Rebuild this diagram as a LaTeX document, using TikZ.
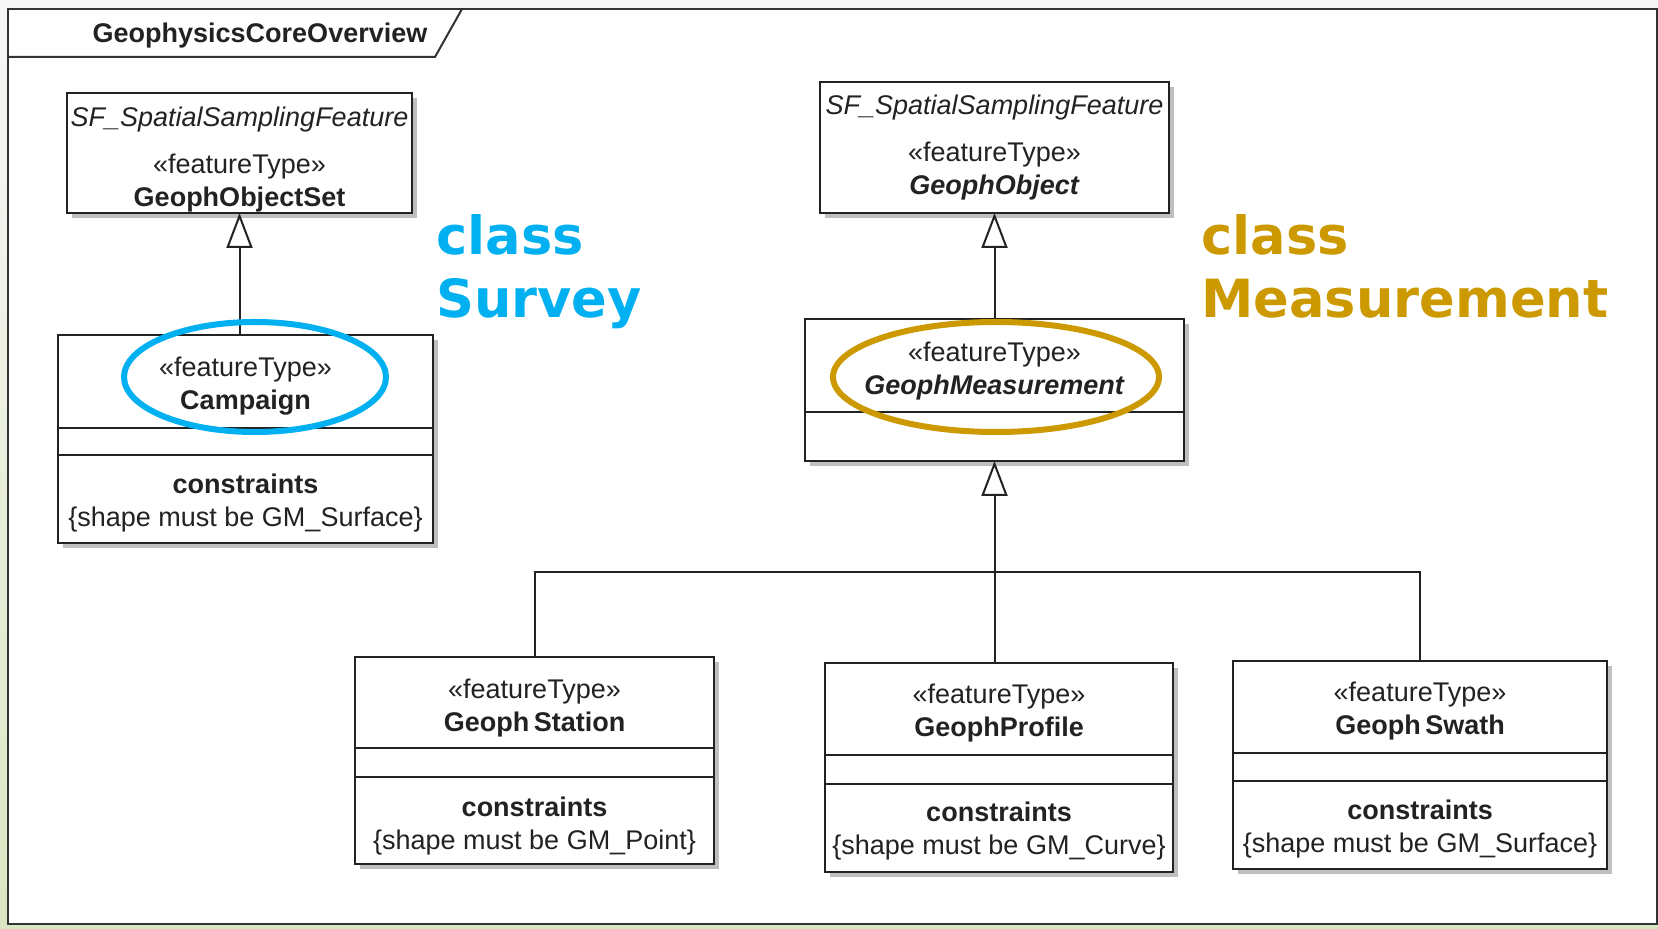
\documentclass[tikz,border=0pt]{standalone}
\usepackage{fontspec}
\setmainfont{Liberation Sans}
\newfontfamily\labelfont{DejaVu Sans}
\usetikzlibrary{positioning,arrows.meta,shadows}
\definecolor{surveyblue}{RGB}{0,176,240}
\definecolor{measgold}{RGB}{204,153,0}
\definecolor{umlink}{RGB}{34,34,34}
\newcommand{\ftype}{«featureType»}

\begin{document}
\begin{tikzpicture}[x=0.5pt, y=-0.5pt,
    font=\fontsize{13.5}{16.5}\selectfont, text=umlink,
    cls/.style={draw=umlink, line width=1.1pt, fill=white, align=center, inner sep=0pt, outer sep=0pt,
        text height=#1,
        drop shadow={shadow xshift=2.5pt, shadow yshift=-2.5pt, fill=black!25, opacity=1}},
    cls/.default=30.5pt,
    gen/.style={draw=umlink, line width=1pt, -{Triangle[length=17.5pt, width=13pt, fill=white]}},
    tree/.style={draw=umlink, line width=1pt},
    ring/.style={line width=3pt, draw=#1},
    biglabel/.style={text=#1, font=\labelfont\bfseries\fontsize{26.3}{31.5}\selectfont,
        align=left, anchor=north west, inner sep=0pt}]

    \shade[top color=black!3!white, bottom color={rgb,255:red,218;green,230;blue,194}] (0,0) rectangle (1658,929);
    \useasboundingbox (0,0) rectangle (1658,929);
    \draw[line width=1.3pt, draw=black!80, fill=white] (8,9) rectangle (1657,924);
    \draw[line width=1pt, draw=black!80] (8,57) -- (435,57) -- (462,9);
    \node[font=\fontsize{13.5}{16.5}\selectfont\bfseries] (title) at (260,36) {GeophysicsCoreOverview};

    \node[cls=55.9pt, minimum width=172.5pt, minimum height=60pt] (objset) at (239.5,153)
        {\textit{SF\_SpatialSamplingFeature}\\[7pt]\ftype\\\textbf{GeophObjectSet}};
    \node[cls, minimum width=187.5pt, minimum height=46.5pt] (campaign) at (245.5,381.5) {\ftype\\\textbf{Campaign}};
    \node[cls=0pt, minimum width=187.5pt, minimum height=13.5pt, below=0pt of campaign] (campaign-a) {};
    \node[cls, minimum width=187.5pt, minimum height=44pt, below=0pt of campaign-a] (campaign-c)
        {\textbf{constraints}\\\{shape must be GM\_Surface\}};

    \node[cls=50.3pt, minimum width=174.5pt, minimum height=65.5pt] (geophobj) at (994.5,147.5)
        {\textit{SF\_SpatialSamplingFeature}\\[7pt]\ftype\\\textbf{\textit{GeophObject}}};
    \node[cls=31.4pt, minimum width=189.5pt, minimum height=46.5pt] (meas) at (994.5,365.5) {\ftype\\\textbf{\textit{GeophMeasurement}}};
    \node[cls=0pt, minimum width=189.5pt, minimum height=24.5pt, below=0pt of meas] (meas-a) {};

    \node[cls=31.4pt, minimum width=179.5pt, minimum height=45.5pt] (station) at (534.5,702.5) {\ftype\\\textbf{Geoph\,Station}};
    \node[cls=0pt, minimum width=179.5pt, minimum height=14.5pt, below=0pt of station] (station-a) {};
    \node[cls=31.4pt, minimum width=179.5pt, minimum height=43.5pt, below=0pt of station-a] (station-c)
        {\textbf{constraints}\\\{shape must be GM\_Point\}};

    \node[cls, minimum width=174pt, minimum height=46pt] (profile) at (999,709) {\ftype\\\textbf{GeophProfile}};
    \node[cls=0pt, minimum width=174pt, minimum height=14.5pt, below=0pt of profile] (profile-a) {};
    \node[cls=29.5pt, minimum width=174pt, minimum height=44pt, below=0pt of profile-a] (profile-c)
        {\textbf{constraints}\\\{shape must be GM\_Curve\}};

    \node[cls, minimum width=187pt, minimum height=46pt] (swath) at (1420,707) {\ftype\\\textbf{Geoph\,Swath}};
    \node[cls=0pt, minimum width=187pt, minimum height=14pt, below=0pt of swath] (swath-a) {};
    \node[cls, minimum width=187pt, minimum height=44pt, below=0pt of swath-a] (swath-c)
        {\textbf{constraints}\\\{shape must be GM\_Surface\}};

    \draw[gen] (objset.south |- campaign.north) -- (objset.south);
    \draw[gen] (geophobj.south |- meas.north) -- (geophobj.south);
    \coordinate (fork) at (meas-a.south |- 0,572);
    \draw[tree] (station.north) |- (fork) -| (swath.north);
    \draw[gen] (profile.north -| meas-a.south) -- (meas-a.south);

    \draw[ring=surveyblue] (255,377) ellipse [x radius=65.5pt, y radius=27.5pt];
    \draw[ring=measgold] (996,377) ellipse [x radius=81.5pt, y radius=27.5pt];

    \node[biglabel=surveyblue] (survey) at (436,214) {class\\Survey};
    \node[biglabel=measgold] (measurement) at (1201,214) {class\\Measurement};
\end{tikzpicture}
\end{document}
